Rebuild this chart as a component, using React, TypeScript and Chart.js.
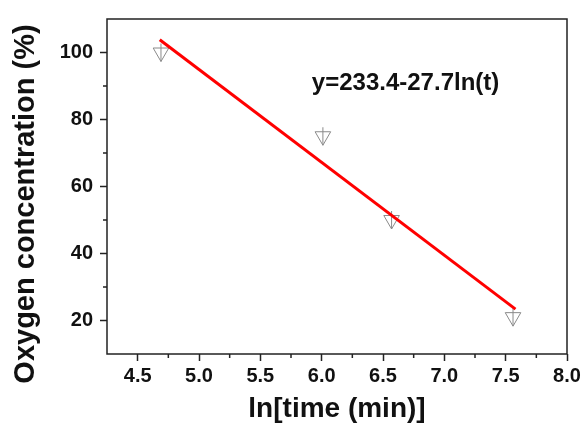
import React, { useEffect, useRef } from 'react';
import { Chart, registerables } from 'chart.js';

Chart.register(...registerables);

const lnTime = [4.69, 6.01, 6.57, 7.56];
const oxygen = [100, 75, 50, 21];
const fitX = [4.68, 7.58];
const fitY = [103.8, 23.4];
const xTicks = [4.5, 5.0, 5.5, 6.0, 6.5, 7.0, 7.5, 8.0];
const xMinorTicks = [4.75, 5.25, 5.75, 6.25, 6.75, 7.25, 7.75];
const yTicks = [20, 40, 60, 80, 100];
const yMinorTicks = [30, 50, 70, 90];
const xRange = [4.25, 8.0];
const yRange = [10, 110];
const equation = 'y=233.4-27.7ln(t)';
const equationAt = [5.92, 88.8];
const xTitle = 'ln[time (min)]';
const yTitle = 'Oxygen concentration (%)';

const FONT = '"Liberation Sans", Arial, Helvetica, sans-serif';
const AXIS = '#222222';
const TEXT = '#111111';

const decor = {
  id: 'decor',
  afterDraw(chart: any) {
    const { ctx, chartArea: a, scales } = chart;
    const xs = scales.x;
    const ys = scales.y;
    ctx.save();
    ctx.strokeStyle = AXIS;
    ctx.lineWidth = 1.5;
    ctx.strokeRect(a.left, a.top, a.right - a.left, a.bottom - a.top);
    ctx.beginPath();
    xMinorTicks.forEach((v) => {
      const p = xs.getPixelForValue(v);
      ctx.moveTo(p, a.bottom);
      ctx.lineTo(p, a.bottom + 4);
    });
    yMinorTicks.forEach((v) => {
      const p = ys.getPixelForValue(v);
      ctx.moveTo(a.left, p);
      ctx.lineTo(a.left - 4, p);
    });
    ctx.stroke();

    ctx.fillStyle = TEXT;
    ctx.font = `bold 24px ${FONT}`;
    ctx.textAlign = 'left';
    ctx.textBaseline = 'alphabetic';
    ctx.fillText(equation, xs.getPixelForValue(equationAt[0]), ys.getPixelForValue(equationAt[1]));

    ctx.font = `bold 28px ${FONT}`;
    ctx.textAlign = 'center';
    ctx.fillText(xTitle, (a.left + a.right) / 2, a.bottom + 63);

    ctx.save();
    ctx.font = `bold 29px ${FONT}`;
    ctx.translate(34, (a.top + a.bottom) / 2 + 17.5);
    ctx.rotate(-Math.PI / 2);
    ctx.fillText(yTitle, 0, 0);
    ctx.restore();
    ctx.restore();
  },
};

export default function App() {
  const ref = useRef<HTMLCanvasElement | null>(null);
  useEffect(() => {
    document.body.style.margin = '0';
    const canvas = ref.current;
    if (!canvas) return;
    const points = lnTime.map((x, i) => ({ x, y: oxygen[i] }));
    const fit = fitX.map((x, i) => ({ x, y: fitY[i] }));
    const chart = new Chart(canvas, {
      type: 'scatter',
      data: {
        datasets: [
          {
            label: 'fit',
            data: fit,
            showLine: true,
            borderColor: '#ff0000',
            borderWidth: 3,
            pointRadius: 0,
            fill: false,
          } as any,
          {
            label: 'data',
            data: points,
            pointStyle: 'triangle',
            rotation: 180,
            pointRadius: 9,
            borderColor: '#8a8a8a',
            backgroundColor: 'rgba(0,0,0,0)',
            borderWidth: 1,
          } as any,
          {
            label: 'data-stem',
            data: points,
            pointStyle: 'line',
            rotation: 90,
            pointRadius: 9,
            borderColor: '#8a8a8a',
            borderWidth: 1,
          } as any,
        ],
      },
      options: {
        responsive: false,
        animation: false,
        layout: { padding: { top: 13, right: 17, left: 0, bottom: 0 } },
        plugins: { legend: { display: false }, tooltip: { enabled: false } },
        scales: {
          x: {
            type: 'linear',
            min: xRange[0],
            max: xRange[1],
            afterBuildTicks: (s: any) => {
              s.ticks = xTicks.map((v) => ({ value: v }));
            },
            afterFit: (s: any) => {
              s.height = 74;
            },
            border: { display: false },
            grid: {
              drawOnChartArea: false,
              drawTicks: true,
              tickLength: 7,
              tickColor: AXIS,
              tickWidth: 1.5,
            },
            ticks: {
              autoSkip: false,
              maxRotation: 0,
              padding: 3,
              color: TEXT,
              font: { family: FONT, size: 20, weight: 'bold' },
              callback: (v: any) => Number(v).toFixed(1),
            },
          },
          y: {
            type: 'linear',
            min: yRange[0],
            max: yRange[1],
            afterBuildTicks: (s: any) => {
              s.ticks = yTicks.map((v) => ({ value: v }));
            },
            afterFit: (s: any) => {
              s.width = 107;
            },
            border: { display: false },
            grid: {
              drawOnChartArea: false,
              drawTicks: true,
              tickLength: 7,
              tickColor: AXIS,
              tickWidth: 1.5,
            },
            ticks: {
              padding: 7,
              color: TEXT,
              font: { family: FONT, size: 20, weight: 'bold' },
              callback: (v: any) => String(v),
            },
          },
        },
      } as any,
      plugins: [decor],
    });
    return () => chart.destroy();
  }, []);
  return (
    <div style={{ width: 584, height: 428, background: '#fff' }}>
      <canvas ref={ref} width={584} height={428} style={{ display: 'block' }} />
    </div>
  );
}
